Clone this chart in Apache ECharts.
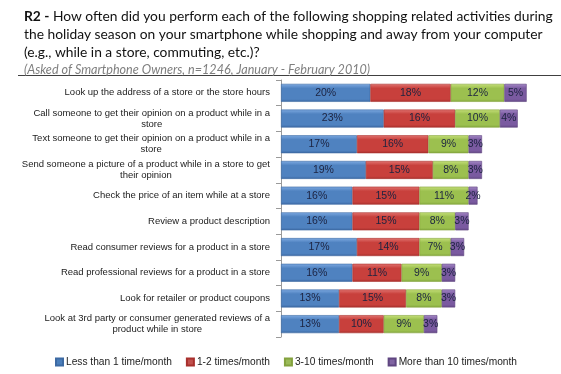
<!DOCTYPE html>
<html>
<head>
<meta charset="utf-8">
<script src="https://cdn.jsdelivr.net/npm/echarts@6/dist/echarts.min.js"></script>
<style>html,body{margin:0;padding:0;background:#fff;}#c{width:561px;height:374px;}</style>
</head>
<body>
<div id="c"></div>
<script>
const categories = [
  "Look up the address of a store or the store hours",
  "Call someone to get their opinion on a product while in a\nstore",
  "Text someone to get their opinion on a product while in a\nstore",
  "Send someone a picture of a product while in a store to get\ntheir opinion",
  "Check the price of an item while at a store",
  "Review a product description",
  "Read consumer reviews for a product in a store",
  "Read professional reviews for a product in a store",
  "Look for retailer or product coupons",
  "Look at 3rd party or consumer generated reviews of a\nproduct while in store"
];
const seriesNames = ["Less than 1 time/month", "1-2 times/month", "3-10 times/month", "More than 10 times/month"];
const lessThan1 = [20, 23, 17, 19, 16, 16, 17, 16, 13, 13];
const times1to2 = [18, 16, 16, 15, 15, 15, 14, 11, 15, 10];
const times3to10 = [12, 10, 9, 8, 11, 8, 7, 9, 8, 9];
const moreThan10 = [5, 4, 3, 3, 2, 3, 3, 3, 3, 3];

const NARROW = '"Liberation Sans Narrow", "Arial Narrow", "Liberation Sans", sans-serif';
const TITLEF = 'Lato, "Liberation Sans", sans-serif';

function grad(top, mid, bot) {
  return new echarts.graphic.LinearGradient(0, 0, 0, 1, [
    {offset: 0, color: top}, {offset: 0.25, color: mid}, {offset: 0.85, color: mid}, {offset: 1, color: bot}
  ]);
}
const styles = [
  {color: grad('#7eaae2', '#4f82c0', '#3c68a2'), borderColor: '#3d6aa3', legend: '#4a7ebb'},
  {color: grad('#e27572', '#c8403c', '#a8302d'), borderColor: '#a8302d', legend: '#c0504d'},
  {color: grad('#c6e07a', '#9cc04f', '#84a83e'), borderColor: '#84a23e', legend: '#9bbb59'},
  {color: grad('#a68ac8', '#7a5aa0', '#634884'), borderColor: '#5f4580', legend: '#8064a2'}
];
const dataSets = [lessThan1, times1to2, times3to10, moreThan10];

const chart = echarts.init(document.getElementById('c'), null, {renderer: 'canvas'});
chart.setOption({
  backgroundColor: '#fff',
  animation: false,
  title: [{
    left: 19, top: 3,
    text: '{b|R2 -} How often did you perform each of the following shopping related activities during\nthe holiday season on your smartphone while shopping and away from your computer\n(e.g., while in a store, commuting, etc.)?',
    textStyle: {
      fontFamily: TITLEF, fontSize: 13.8, fontWeight: 'normal', color: '#111', lineHeight: 18,
      rich: {b: {fontFamily: TITLEF, fontSize: 13.8, fontWeight: 'bold', color: '#111', lineHeight: 18}}
    }
  }, {
    left: 19, top: 58,
    text: '(Asked of Smartphone Owners, n=1246, January - February 2010)',
    textStyle: {fontFamily: TITLEF, fontSize: 12.6, fontStyle: 'italic', fontWeight: 'normal', color: '#7f7f7f'}
  }],
  graphic: [{
    type: 'line', shape: {x1: 18, y1: 75.5, x2: 561, y2: 75.5},
    style: {stroke: '#404040', lineWidth: 1}
  }],
  legend: {
    top: 352, left: 50,
    itemWidth: 7, itemHeight: 7, itemGap: 14, icon: 'rect',
    textStyle: {fontFamily: NARROW, fontSize: 10.2, color: '#222', padding: [0, 0, 0, -2]},
    data: seriesNames.map(function (n, i) { return {name: n, itemStyle: {color: styles[i].legend}}; })
  },
  grid: {left: 281, right: 12, top: 80, bottom: 37},
  xAxis: {type: 'value', min: 0, max: 60, show: false},
  yAxis: {
    type: 'category', inverse: true, data: categories,
    axisLine: {lineStyle: {color: '#9a9a9a'}},
    axisTick: {show: true, length: 5, lineStyle: {color: '#9a9a9a'}},
    axisLabel: {
      margin: 11, align: 'right',
      fontFamily: NARROW, fontSize: 9.5, color: '#222', lineHeight: 11,
      formatter: function (v) {
        return v.split('\n').map(function (s) { return '{c|' + s + '}'; }).join('\n');
      },
      rich: {c: {align: 'center', fontFamily: NARROW, fontSize: 9.5, color: '#222', lineHeight: 11}}
    }
  },
  series: dataSets.map(function (d, i) {
    return {
      name: seriesNames[i], type: 'bar', stack: 'total', barWidth: 18,
      data: d,
      itemStyle: {color: styles[i].color, borderColor: styles[i].borderColor, borderWidth: 0.6},
      label: {
        show: true, position: 'inside', formatter: '{c}%',
        fontFamily: NARROW, fontSize: 10.5, color: '#1c2340'
      },
      emphasis: {disabled: true}
    };
  })
});
</script>
</body>
</html>
